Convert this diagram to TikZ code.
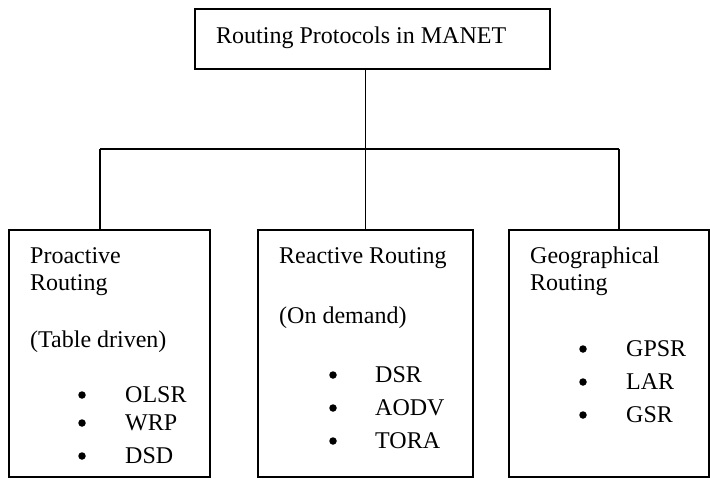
\documentclass[tikz,border=0pt]{standalone}
\usepackage{fontspec}
\setmainfont{Liberation Serif}
\begin{document}
\begin{tikzpicture}[x=1pt, y=-1pt,
  box/.style={draw, line width=1.2pt, inner sep=0pt, outer sep=0pt, anchor=north west},
  txt/.style={anchor=base west, inner sep=0pt, font=\fontsize{24}{27}\selectfont},
  dot/.style={circle, fill, inner sep=0pt, minimum size=7.5pt},
  wire/.style={draw, line width=1.2pt},
]
\useasboundingbox[fill=white] (0,0) rectangle (710,480);
% --- Root (row 0) ---
\node[box, minimum width=355, minimum height=60] (root) at (195,9) {};
\node[txt] (rootlbl) at (216,43) {Routing Protocols in MANET};
% --- Classes (row 1) ---
\node[box, minimum width=201, minimum height=247] (pro) at (9,230) {};
\node[box, minimum width=215, minimum height=247] (rea) at (258,230) {};
\node[box, minimum width=200, minimum height=247] (geo) at (509,230) {};
\node[txt] (pro1) at (30,263) {Proactive};
\node[txt] (pro2) at (30,290) {Routing};
\node[txt] (pro3) at (30,347) {(Table driven)};
\node[txt] (rea1) at (279,263) {Reactive Routing};
\node[txt] (rea2) at (279,323) {(On demand)};
\node[txt] (geo1) at (530,263) {Geographical};
\node[txt] (geo2) at (530,290) {Routing};
% --- Protocol lists ---
\foreach \nm/\y [count=\i] in {OLSR/402, WRP/430, DSD/463} {
  \node[dot] (prob\i) at (82,\y-7) {};
  \node[txt] (prop\i) at (125,\y) {\nm};
}
\foreach \nm/\y [count=\i] in {DSR/382, AODV/415, TORA/448} {
  \node[dot] (reab\i) at (333,\y-7) {};
  \node[txt] (reap\i) at (375,\y) {\nm};
}
\foreach \nm/\y [count=\i] in {GPSR/356, LAR/389, GSR/422} {
  \node[dot] (geob\i) at (583,\y-7) {};
  \node[txt] (geop\i) at (626,\y) {\nm};
}
% --- Connectors ---
\coordinate (barL) at (100,149);
\coordinate (barR) at (619,149);
\draw[wire] (root.south -| rea.north) -- (rea.north);
\draw[wire] (barL) -- (barR);
\draw[wire] (barL) -- (barL |- pro.north);
\draw[wire] (barR) -- (barR |- geo.north);
\end{tikzpicture}
\end{document}
